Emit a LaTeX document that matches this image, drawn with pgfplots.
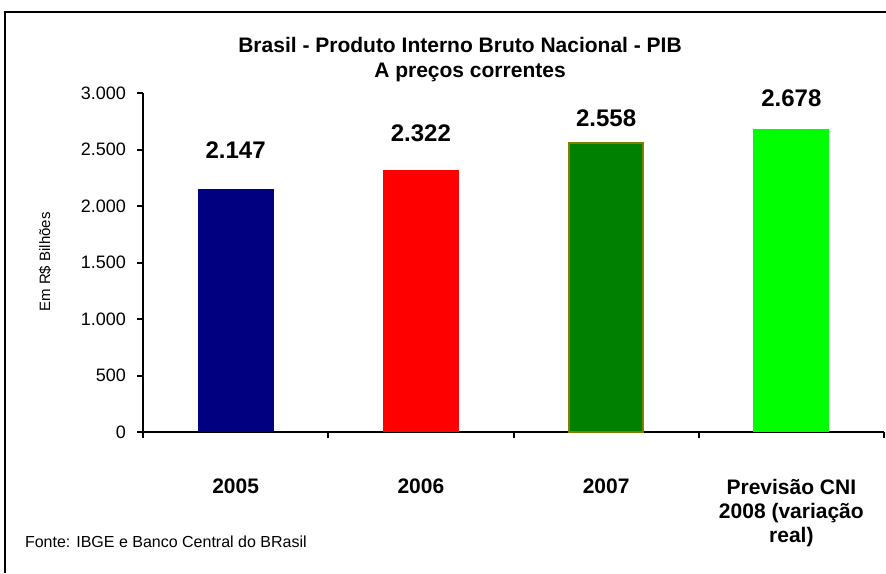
\documentclass[border=0pt]{standalone}
\usepackage{pgfplots}
\pgfplotsset{compat=1.18}
\usepackage{fontspec}
\setmainfont{Liberation Sans}
\definecolor{cnavy}{RGB}{0,0,128}
\definecolor{cred}{RGB}{255,0,0}
\definecolor{cgreen}{RGB}{0,128,0}
\definecolor{colive}{RGB}{128,128,0}
\definecolor{clime}{RGB}{0,255,0}
\begin{document}
\begin{tikzpicture}
\path[use as bounding box] (0,0) rectangle (443pt,286.5pt);
\draw[line width=1pt] (2.5pt,0) -- (2.5pt,280.5pt) -- (443pt,280.5pt);
\node[font=\bfseries\fontsize{10.5}{12}\selectfont] at (230pt,264pt) {Brasil - Produto Interno Bruto Nacional - PIB};
\node[font=\bfseries\fontsize{10.5}{12}\selectfont] at (235pt,250.5pt) {A preços correntes};
\node[font=\fontsize{7.5}{9}\selectfont, rotate=90] at (22.5pt,155.5pt) {Em R\$ Bilhões};
\node[font=\fontsize{8}{10}\selectfont, anchor=west] at (9pt,15.5pt) {Fonte: IBGE e Banco Central do BRasil};
\begin{axis}[
  at={(71.5pt,70.5pt)}, anchor=south west,
  scale only axis, width=370.5pt, height=169.5pt,
  xmin=-0.5, xmax=3.5, ymin=0, ymax=3000,
  axis x line=bottom, axis y line=left,
  axis line style={line width=1pt, -},
  tick align=outside, tick pos=left,
  major tick length=3pt,
  every tick/.style={black, line width=1pt},
  ytick={0,500,1000,1500,2000,2500,3000},
  yticklabel style={font=\fontsize{9}{11}\selectfont, xshift=-2pt},
  xtick={-0.5,0.5,1.5,2.5,3.5},
  xticklabels={},
  extra x ticks={0,1,2,3},
  extra x tick labels={2005,2006,2007,{Previsão CNI\\2008 (variação\\real)}},
  extra x tick style={major tick length=0pt,
    xticklabel style={font=\bfseries\fontsize{10.5}{12}\selectfont, align=center, anchor=north, yshift=-20pt}},
  /pgf/number format/1000 sep={.},
  /pgf/number format/assume math mode=true,
  nodes near coords,
  every node near coord/.append style={font=\bfseries\fontsize{12}{14}\selectfont, anchor=center, black},
  clip=false,
]
\addplot[ybar, bar width=38pt, bar shift=0pt, fill=cnavy, draw=none,
  every node near coord/.append style={yshift=19.5pt}] coordinates {(0,2147)};
\addplot[ybar, bar width=38pt, bar shift=0pt, fill=cred, draw=none,
  every node near coord/.append style={yshift=18pt}] coordinates {(1,2322)};
\addplot[ybar, bar width=37pt, bar shift=0pt, fill=cgreen, draw=colive, line width=1pt,
  every node near coord/.append style={yshift=12.5pt}] coordinates {(2,2558)};
\addplot[ybar, bar width=38pt, bar shift=0pt, fill=clime, draw=none,
  every node near coord/.append style={yshift=15.5pt}] coordinates {(3,2678)};
\end{axis}
\end{tikzpicture}
\end{document}
